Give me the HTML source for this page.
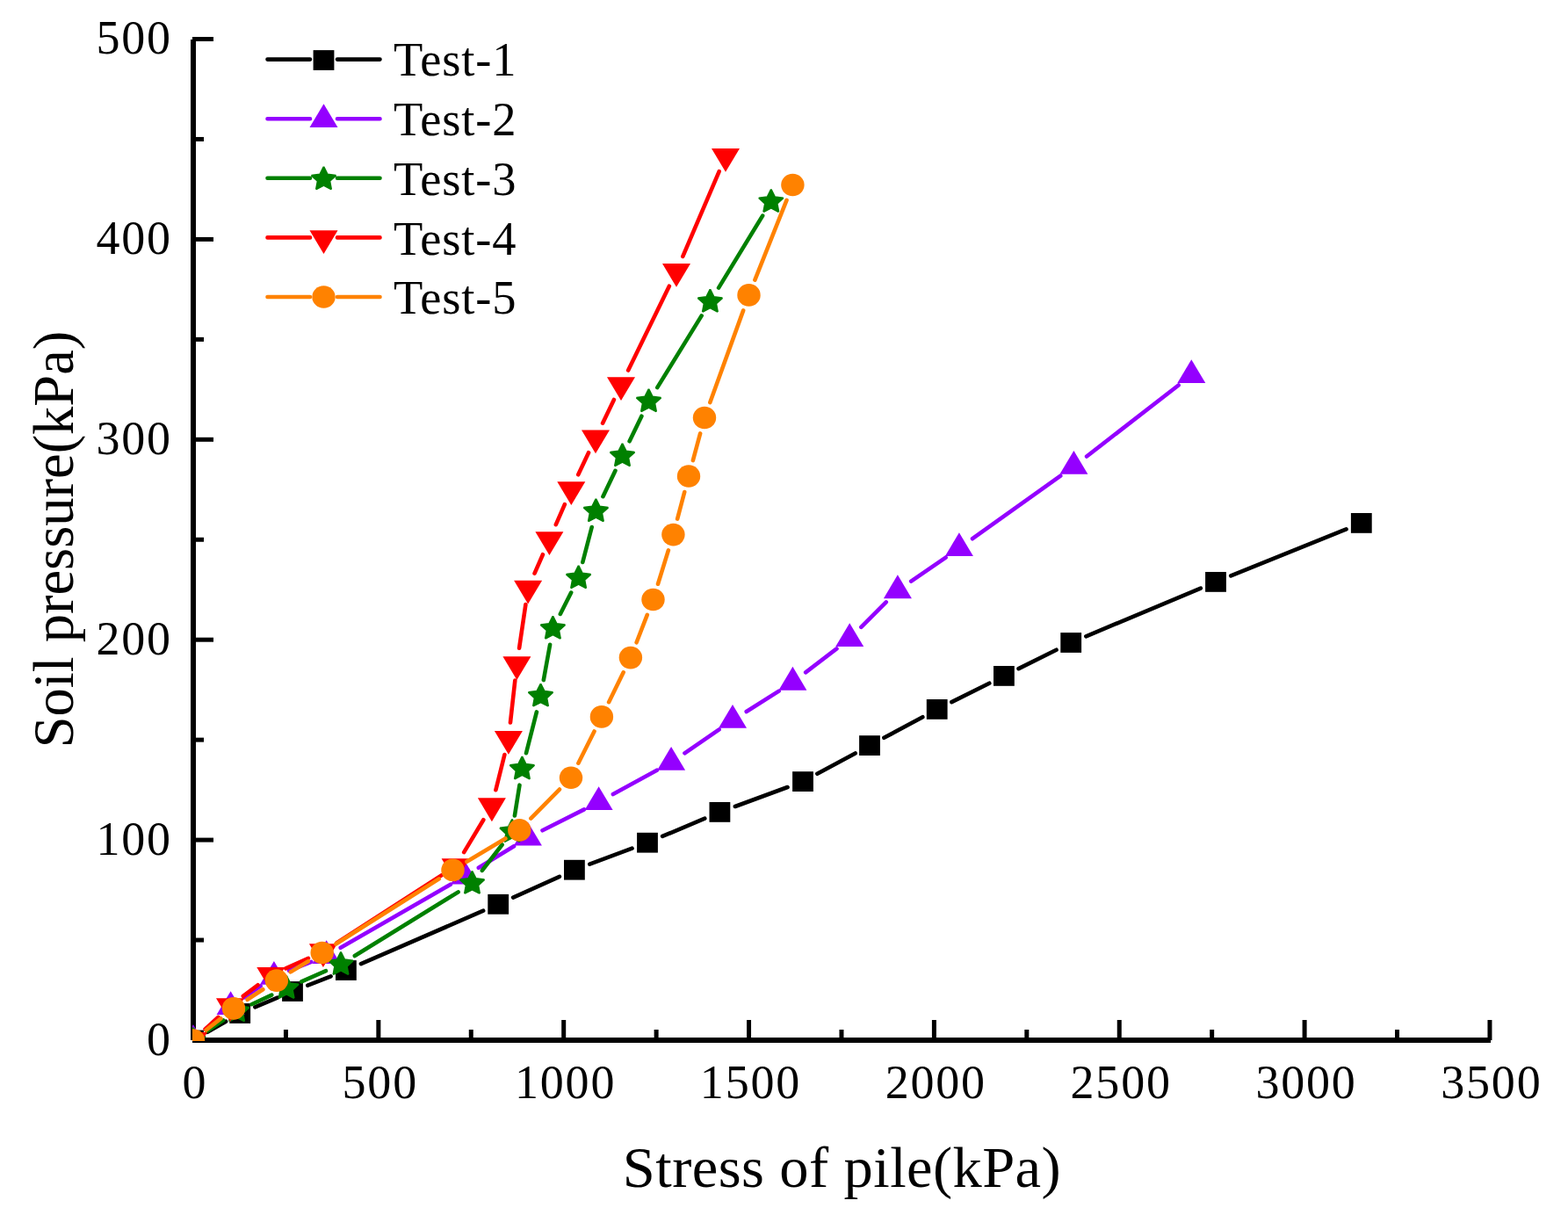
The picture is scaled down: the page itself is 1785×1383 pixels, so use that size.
<!DOCTYPE html>
<html><head><meta charset="utf-8"><title>Soil pressure vs stress of pile</title>
<style>
html,body{margin:0;padding:0;background:#fff;}
body{width:1785px;height:1383px;overflow:hidden;}
svg{display:block;}
</style></head><body>
<svg width="1785" height="1383" viewBox="0 0 1785 1383"><g fill="none" stroke="#000" stroke-linecap="butt">
<line x1="220" y1="45" x2="220" y2="1184" stroke-width="6"/>
<line x1="219" y1="1184" x2="1697" y2="1184" stroke-width="6"/>
<line x1="219" y1="1184" x2="243" y2="1184" stroke-width="5"/>
<line x1="219" y1="1070.05" x2="232" y2="1070.05" stroke-width="5"/>
<line x1="219" y1="956.1" x2="243" y2="956.1" stroke-width="5"/>
<line x1="219" y1="842.15" x2="232" y2="842.15" stroke-width="5"/>
<line x1="219" y1="728.2" x2="243" y2="728.2" stroke-width="5"/>
<line x1="219" y1="614.25" x2="232" y2="614.25" stroke-width="5"/>
<line x1="219" y1="500.3" x2="243" y2="500.3" stroke-width="5"/>
<line x1="219" y1="386.35" x2="232" y2="386.35" stroke-width="5"/>
<line x1="219" y1="272.4" x2="243" y2="272.4" stroke-width="5"/>
<line x1="219" y1="158.45" x2="232" y2="158.45" stroke-width="5"/>
<line x1="219" y1="44.5" x2="243" y2="44.5" stroke-width="5"/>
<line x1="220" y1="1184" x2="220" y2="1161" stroke-width="5"/>
<line x1="325.43" y1="1184" x2="325.43" y2="1172" stroke-width="5"/>
<line x1="430.85" y1="1184" x2="430.85" y2="1161" stroke-width="5"/>
<line x1="536.27" y1="1184" x2="536.27" y2="1172" stroke-width="5"/>
<line x1="641.7" y1="1184" x2="641.7" y2="1161" stroke-width="5"/>
<line x1="747.12" y1="1184" x2="747.12" y2="1172" stroke-width="5"/>
<line x1="852.55" y1="1184" x2="852.55" y2="1161" stroke-width="5"/>
<line x1="957.97" y1="1184" x2="957.97" y2="1172" stroke-width="5"/>
<line x1="1063.4" y1="1184" x2="1063.4" y2="1161" stroke-width="5"/>
<line x1="1168.82" y1="1184" x2="1168.82" y2="1172" stroke-width="5"/>
<line x1="1274.25" y1="1184" x2="1274.25" y2="1161" stroke-width="5"/>
<line x1="1379.67" y1="1184" x2="1379.67" y2="1172" stroke-width="5"/>
<line x1="1485.1" y1="1184" x2="1485.1" y2="1161" stroke-width="5"/>
<line x1="1590.52" y1="1184" x2="1590.52" y2="1172" stroke-width="5"/>
<line x1="1695.95" y1="1184" x2="1695.95" y2="1161" stroke-width="5"/>
</g>
<g font-family="'Liberation Serif', 'Times New Roman', serif" font-size="54" fill="#000" letter-spacing="1.8">
<text x="195.8" y="1200.6" text-anchor="end">0</text>
<text x="195.8" y="972.7" text-anchor="end">100</text>
<text x="195.8" y="744.8" text-anchor="end">200</text>
<text x="195.8" y="516.9" text-anchor="end">300</text>
<text x="195.8" y="289" text-anchor="end">400</text>
<text x="195.8" y="61.1" text-anchor="end">500</text>
<text x="221.9" y="1250" text-anchor="middle">0</text>
<text x="432.75" y="1250" text-anchor="middle">500</text>
<text x="643.6" y="1250" text-anchor="middle">1000</text>
<text x="854.45" y="1250" text-anchor="middle">1500</text>
<text x="1065.3" y="1250" text-anchor="middle">2000</text>
<text x="1276.15" y="1250" text-anchor="middle">2500</text>
<text x="1487" y="1250" text-anchor="middle">3000</text>
<text x="1697.85" y="1250" text-anchor="middle">3500</text>
</g>
<text x="958.5" y="1351" text-anchor="middle" font-family="'Liberation Serif', serif" font-size="66.5" letter-spacing="0.42">Stress of pile(kPa)</text>
<text transform="translate(83,614) rotate(-90)" text-anchor="middle" font-family="'Liberation Serif', serif" font-size="64.5">Soil pressure(kPa)</text>
<defs><clipPath id="pc"><rect x="219" y="30" width="1490" height="1155"/></clipPath></defs>
<g clip-path="url(#pc)">
<path d="M236.14 1174.75L257.06 1162.75M290.36 1146.33L315.84 1135.67M350.3 1121.68L376.6 1111.32M410.96 1097.1L550.14 1036.7M584.16 1021.65L636.94 997.85M671.33 983.7L719.57 965.7M754.13 951.96L802.27 931.64M836.86 917.98L896.54 896.02M930.37 880.77L973.63 857.43M1006.39 839.8L1050.31 816.2M1083.35 799.1L1126.25 777.7M1159.56 761.13L1202.54 739.77M1236.35 724.31L1366.85 669.59M1401.25 655.43L1532.55 602.37" fill="none" stroke="#000000" stroke-width="4.6" stroke-linecap="round"/>
<rect x="208.1" y="1172.6" width="23.8" height="22.8" fill="#000000"/>
<rect x="261.3" y="1142.1" width="23.8" height="22.8" fill="#000000"/>
<rect x="321.1" y="1117.1" width="23.8" height="22.8" fill="#000000"/>
<rect x="382" y="1093.1" width="23.8" height="22.8" fill="#000000"/>
<rect x="555.3" y="1017.9" width="23.8" height="22.8" fill="#000000"/>
<rect x="642" y="978.8" width="23.8" height="22.8" fill="#000000"/>
<rect x="725.1" y="947.8" width="23.8" height="22.8" fill="#000000"/>
<rect x="807.5" y="913" width="23.8" height="22.8" fill="#000000"/>
<rect x="902.1" y="878.2" width="23.8" height="22.8" fill="#000000"/>
<rect x="978.1" y="837.2" width="23.8" height="22.8" fill="#000000"/>
<rect x="1054.8" y="796" width="23.8" height="22.8" fill="#000000"/>
<rect x="1131" y="758" width="23.8" height="22.8" fill="#000000"/>
<rect x="1207.3" y="720.1" width="23.8" height="22.8" fill="#000000"/>
<rect x="1372.1" y="651" width="23.8" height="22.8" fill="#000000"/>
<rect x="1537.9" y="584" width="23.8" height="22.8" fill="#000000"/>
<path d="M233.88 1171.62L248.72 1158.38M277.88 1135.4L296.62 1122.4M329.18 1104.91L354.32 1094.89M387.72 1078.73L512.88 1006.77M544.87 987.81L585.03 963.29M617.52 945.24L664.98 921.36M697.91 904.06L747.79 876.74M779.44 857.29L818.66 830.41M849.73 809.97L886.67 786.63M917.16 765.38L952.44 738.32M980.34 713.84L1008.76 685.36M1037.22 661.65L1076.58 634.55M1107.04 613.2L1207.26 541.7M1237.1 519.5L1341.6 438.5" fill="none" stroke="#9400FF" stroke-width="4.6" stroke-linecap="round"/>
<polygon points="220,1166.13 236,1192.93 204,1192.93" fill="#9400FF"/>
<polygon points="262.6,1128.13 278.6,1154.93 246.6,1154.93" fill="#9400FF"/>
<polygon points="311.9,1093.93 327.9,1120.73 295.9,1120.73" fill="#9400FF"/>
<polygon points="371.6,1070.13 387.6,1096.93 355.6,1096.93" fill="#9400FF"/>
<polygon points="529,979.63 545,1006.43 513,1006.43" fill="#9400FF"/>
<polygon points="600.9,935.73 616.9,962.53 584.9,962.53" fill="#9400FF"/>
<polygon points="681.6,895.13 697.6,921.93 665.6,921.93" fill="#9400FF"/>
<polygon points="764.1,849.93 780.1,876.73 748.1,876.73" fill="#9400FF"/>
<polygon points="834,802.03 850,828.83 818,828.83" fill="#9400FF"/>
<polygon points="902.4,758.83 918.4,785.63 886.4,785.63" fill="#9400FF"/>
<polygon points="967.2,709.13 983.2,735.93 951.2,735.93" fill="#9400FF"/>
<polygon points="1021.9,654.33 1037.9,681.13 1005.9,681.13" fill="#9400FF"/>
<polygon points="1091.9,606.13 1107.9,632.93 1075.9,632.93" fill="#9400FF"/>
<polygon points="1222.4,513.03 1238.4,539.83 1206.4,539.83" fill="#9400FF"/>
<polygon points="1356.3,409.23 1372.3,436.03 1340.3,436.03" fill="#9400FF"/>
<path d="M235.5 1173.72L254.1 1161.38M286.45 1143.23L309.25 1132.57M343.16 1117.29L370.94 1105.21M403.83 1088.04L521.67 1015.36M548.88 990.89L571.62 961.51M585.93 928.43L591.47 893.67M598.99 857.27L610.91 810.43M618.81 774.1L626.09 733.8M637.82 698.92L650.18 674.58M663.29 640L673.71 600M686.42 565.22L700.48 535.78M716.6 502.26L730.4 473.74M748.25 441.16L798.65 359.34M818.08 327.62L868.12 245.58" fill="none" stroke="#008000" stroke-width="4.6" stroke-linecap="round"/>
<polygon points="220,1170 224.22,1178.42 233.85,1179.67 226.82,1186.13 228.56,1195.33 220,1190.9 211.44,1195.33 213.18,1186.13 206.15,1179.67 215.78,1178.42" fill="#008000" stroke="#008000" stroke-width="2" stroke-linejoin="bevel"/>
<polygon points="269.6,1137.1 273.82,1145.52 283.45,1146.77 276.42,1153.23 278.16,1162.43 269.6,1158 261.04,1162.43 262.78,1153.23 255.75,1146.77 265.38,1145.52" fill="#008000" stroke="#008000" stroke-width="2" stroke-linejoin="bevel"/>
<polygon points="326.1,1110.7 330.32,1119.12 339.95,1120.37 332.92,1126.83 334.66,1136.03 326.1,1131.6 317.54,1136.03 319.28,1126.83 312.25,1120.37 321.88,1119.12" fill="#008000" stroke="#008000" stroke-width="2" stroke-linejoin="bevel"/>
<polygon points="388,1083.8 392.22,1092.22 401.85,1093.47 394.82,1099.93 396.56,1109.13 388,1104.7 379.44,1109.13 381.18,1099.93 374.15,1093.47 383.78,1092.22" fill="#008000" stroke="#008000" stroke-width="2" stroke-linejoin="bevel"/>
<polygon points="537.5,991.6 541.72,1000.02 551.35,1001.27 544.32,1007.73 546.06,1016.93 537.5,1012.5 528.94,1016.93 530.68,1007.73 523.65,1001.27 533.28,1000.02" fill="#008000" stroke="#008000" stroke-width="2" stroke-linejoin="bevel"/>
<polygon points="583,932.8 587.22,941.22 596.85,942.47 589.82,948.93 591.56,958.13 583,953.7 574.44,958.13 576.18,948.93 569.15,942.47 578.78,941.22" fill="#008000" stroke="#008000" stroke-width="2" stroke-linejoin="bevel"/>
<polygon points="594.4,861.3 598.62,869.72 608.25,870.97 601.22,877.43 602.96,886.63 594.4,882.2 585.84,886.63 587.58,877.43 580.55,870.97 590.18,869.72" fill="#008000" stroke="#008000" stroke-width="2" stroke-linejoin="bevel"/>
<polygon points="615.5,778.4 619.72,786.82 629.35,788.07 622.32,794.53 624.06,803.73 615.5,799.3 606.94,803.73 608.68,794.53 601.65,788.07 611.28,786.82" fill="#008000" stroke="#008000" stroke-width="2" stroke-linejoin="bevel"/>
<polygon points="629.4,701.5 633.62,709.92 643.25,711.17 636.22,717.63 637.96,726.83 629.4,722.4 620.84,726.83 622.58,717.63 615.55,711.17 625.18,709.92" fill="#008000" stroke="#008000" stroke-width="2" stroke-linejoin="bevel"/>
<polygon points="658.6,644 662.82,652.42 672.45,653.67 665.42,660.13 667.16,669.33 658.6,664.9 650.04,669.33 651.78,660.13 644.75,653.67 654.38,652.42" fill="#008000" stroke="#008000" stroke-width="2" stroke-linejoin="bevel"/>
<polygon points="678.4,568 682.62,576.42 692.25,577.67 685.22,584.13 686.96,593.33 678.4,588.9 669.84,593.33 671.58,584.13 664.55,577.67 674.18,576.42" fill="#008000" stroke="#008000" stroke-width="2" stroke-linejoin="bevel"/>
<polygon points="708.5,505 712.72,513.42 722.35,514.67 715.32,521.13 717.06,530.33 708.5,525.9 699.94,530.33 701.68,521.13 694.65,514.67 704.28,513.42" fill="#008000" stroke="#008000" stroke-width="2" stroke-linejoin="bevel"/>
<polygon points="738.5,443 742.72,451.42 752.35,452.67 745.32,459.13 747.06,468.33 738.5,463.9 729.94,468.33 731.68,459.13 724.65,452.67 734.28,451.42" fill="#008000" stroke="#008000" stroke-width="2" stroke-linejoin="bevel"/>
<polygon points="808.4,329.5 812.62,337.92 822.25,339.17 815.22,345.63 816.96,354.83 808.4,350.4 799.84,354.83 801.58,345.63 794.55,339.17 804.18,337.92" fill="#008000" stroke="#008000" stroke-width="2" stroke-linejoin="bevel"/>
<polygon points="877.8,215.7 882.02,224.12 891.65,225.37 884.62,231.83 886.36,241.03 877.8,236.6 869.24,241.03 870.98,231.83 863.95,225.37 873.58,224.12" fill="#008000" stroke="#008000" stroke-width="2" stroke-linejoin="bevel"/>
<path d="M233.66 1171.38L248.34 1157.82M276.81 1133.94L293.49 1121.26M325.26 1102.37L350.94 1090.83M383.54 1073.13L502.96 996.17M528.17 970.15L550.33 933.25M564.39 899.25L574.41 859.05M580.97 822.52L586.33 774.58M591.1 737.7L598.4 688.1M608.56 652.66L617.94 631.24M632.83 597.15L642.87 574.15M658.24 540.28L670.06 515.22M686.07 481.64L698.93 454.96M715.15 421.48L761.85 325.72M777.31 291.9L818.69 195.1" fill="none" stroke="#FF0000" stroke-width="4.6" stroke-linecap="round"/>
<polygon points="204,1175.07 236,1175.07 220,1201.87" fill="#FF0000"/>
<polygon points="246,1136.27 278,1136.27 262,1163.07" fill="#FF0000"/>
<polygon points="292.3,1101.07 324.3,1101.07 308.3,1127.87" fill="#FF0000"/>
<polygon points="351.9,1074.27 383.9,1074.27 367.9,1101.07" fill="#FF0000"/>
<polygon points="502.6,977.17 534.6,977.17 518.6,1003.97" fill="#FF0000"/>
<polygon points="543.9,908.37 575.9,908.37 559.9,935.17" fill="#FF0000"/>
<polygon points="562.9,832.07 594.9,832.07 578.9,858.87" fill="#FF0000"/>
<polygon points="572.4,747.17 604.4,747.17 588.4,773.97" fill="#FF0000"/>
<polygon points="585.1,660.77 617.1,660.77 601.1,687.57" fill="#FF0000"/>
<polygon points="609.4,605.27 641.4,605.27 625.4,632.07" fill="#FF0000"/>
<polygon points="634.3,548.17 666.3,548.17 650.3,574.97" fill="#FF0000"/>
<polygon points="662,489.47 694,489.47 678,516.27" fill="#FF0000"/>
<polygon points="691,429.27 723,429.27 707,456.07" fill="#FF0000"/>
<polygon points="754,300.07 786,300.07 770,326.87" fill="#FF0000"/>
<polygon points="810,169.07 842,169.07 826,195.87" fill="#FF0000"/>
<path d="M234.63 1172.52L251.37 1159.38M281.59 1137.76L299.31 1126.24M330.78 1106.41L350.82 1094.19M382.42 1074.56L499.78 1000.34M531.45 980.83L575.35 954.47M604.35 931.65L636.95 898.55M658.36 868.68L676.54 832.52M693.09 799.2L709.71 765.3M724.62 731.26L736.78 699.84M749.01 664.73L760.89 626.37M771.15 590.62L779.25 559.98M788.86 524.05L797.14 493.45M808.33 458.01L846.17 353.39M859.38 318.62L895.52 227.78" fill="none" stroke="#FF8200" stroke-width="4.6" stroke-linecap="round"/>
<ellipse cx="220" cy="1184" rx="13.2" ry="12.8" fill="#FF8200"/>
<ellipse cx="266" cy="1147.9" rx="13.2" ry="12.8" fill="#FF8200"/>
<ellipse cx="314.9" cy="1116.1" rx="13.2" ry="12.8" fill="#FF8200"/>
<ellipse cx="366.7" cy="1084.5" rx="13.2" ry="12.8" fill="#FF8200"/>
<ellipse cx="515.5" cy="990.4" rx="13.2" ry="12.8" fill="#FF8200"/>
<ellipse cx="591.3" cy="944.9" rx="13.2" ry="12.8" fill="#FF8200"/>
<ellipse cx="650" cy="885.3" rx="13.2" ry="12.8" fill="#FF8200"/>
<ellipse cx="684.9" cy="815.9" rx="13.2" ry="12.8" fill="#FF8200"/>
<ellipse cx="717.9" cy="748.6" rx="13.2" ry="12.8" fill="#FF8200"/>
<ellipse cx="743.5" cy="682.5" rx="13.2" ry="12.8" fill="#FF8200"/>
<ellipse cx="766.4" cy="608.6" rx="13.2" ry="12.8" fill="#FF8200"/>
<ellipse cx="784" cy="542" rx="13.2" ry="12.8" fill="#FF8200"/>
<ellipse cx="802" cy="475.5" rx="13.2" ry="12.8" fill="#FF8200"/>
<ellipse cx="852.5" cy="335.9" rx="13.2" ry="12.8" fill="#FF8200"/>
<ellipse cx="902.4" cy="210.5" rx="13.2" ry="12.8" fill="#FF8200"/>
</g>
<path d="M304.5 67.6L353 67.6M384 67.6L432.5 67.6" stroke="#000000" stroke-width="4.6" stroke-linecap="round" fill="none"/>
<rect x="356.6" y="57.1" width="23.8" height="22.8" fill="#000000"/>
<text x="448" y="86.2" font-family="'Liberation Serif', serif" font-size="54.5" letter-spacing="0.8">Test-1</text>
<path d="M304.5 135.2L353 135.2M384 135.2L432.5 135.2" stroke="#9400FF" stroke-width="4.6" stroke-linecap="round" fill="none"/>
<polygon points="368.5,118.23 384.5,145.03 352.5,145.03" fill="#9400FF"/>
<text x="448" y="154" font-family="'Liberation Serif', serif" font-size="54.5" letter-spacing="0.8">Test-2</text>
<path d="M304.5 202.8L353 202.8M384 202.8L432.5 202.8" stroke="#008000" stroke-width="4.6" stroke-linecap="round" fill="none"/>
<polygon points="368.5,190 372.72,198.42 382.35,199.67 375.32,206.13 377.06,215.33 368.5,210.9 359.94,215.33 361.68,206.13 354.65,199.67 364.28,198.42" fill="#008000" stroke="#008000" stroke-width="2" stroke-linejoin="bevel"/>
<text x="448" y="221.8" font-family="'Liberation Serif', serif" font-size="54.5" letter-spacing="0.8">Test-3</text>
<path d="M304.5 270.4L353 270.4M384 270.4L432.5 270.4" stroke="#FF0000" stroke-width="4.6" stroke-linecap="round" fill="none"/>
<polygon points="352.5,262.17 384.5,262.17 368.5,288.97" fill="#FF0000"/>
<text x="448" y="289.6" font-family="'Liberation Serif', serif" font-size="54.5" letter-spacing="0.8">Test-4</text>
<path d="M304.5 338L353 338M384 338L432.5 338" stroke="#FF8200" stroke-width="4.6" stroke-linecap="round" fill="none"/>
<ellipse cx="368.5" cy="338" rx="13.2" ry="12.8" fill="#FF8200"/>
<text x="448" y="357.4" font-family="'Liberation Serif', serif" font-size="54.5" letter-spacing="0.8">Test-5</text></svg>
</body></html>
